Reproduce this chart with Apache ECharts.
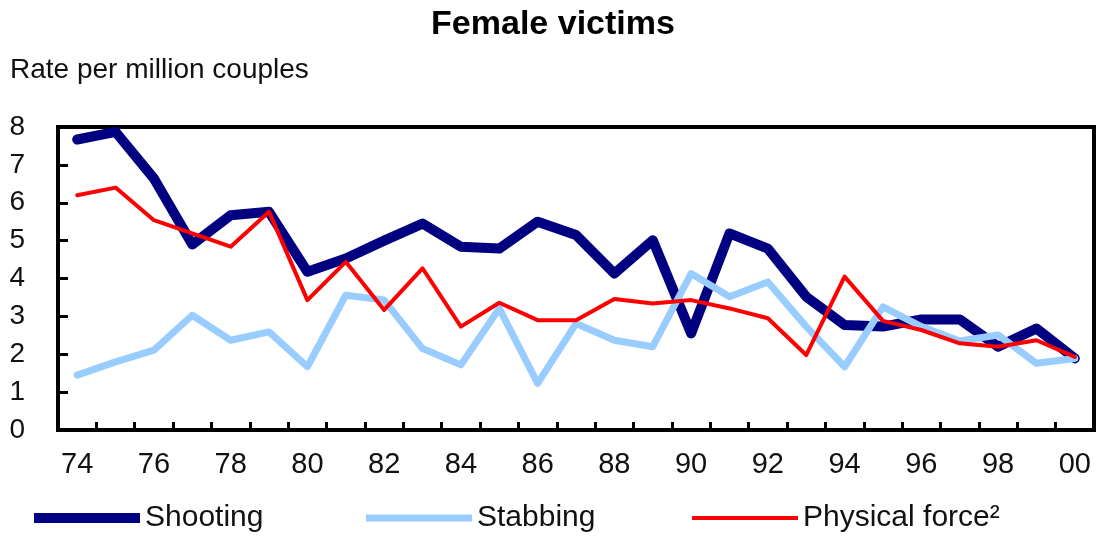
<!DOCTYPE html>
<html>
<head>
<meta charset="utf-8">
<script src="https://cdn.jsdelivr.net/npm/echarts@6/dist/echarts.min.js"></script>
<style>
  html, body { margin: 0; padding: 0; background: #fff; }
  #chart { width: 1106px; height: 536px; }
</style>
</head>
<body>
<div id="chart"></div>
<script>
const years = ['74','75','76','77','78','79','80','81','82','83','84','85','86','87','88','89','90','91','92','93','94','95','96','97','98','99','00'];
const shooting = [7.67, 7.87, 6.64, 4.9, 5.67, 5.76, 4.18, 4.53, 5.0, 5.45, 4.84, 4.79, 5.50, 5.15, 4.13, 5.01, 2.55, 5.19, 4.79, 3.52, 2.77, 2.73, 2.92, 2.92, 2.20, 2.68, 1.89];
const stabbing = [1.45, 1.80, 2.11, 3.03, 2.37, 2.59, 1.67, 3.56, 3.43, 2.15, 1.72, 3.21, 1.23, 2.81, 2.37, 2.20, 4.13, 3.52, 3.91, 2.73, 1.67, 3.25, 2.73, 2.35, 2.51, 1.76, 1.89];
const physical = [6.20, 6.40, 5.54, 5.19, 4.84, 5.76, 3.43, 4.44, 3.17, 4.27, 2.73, 3.36, 2.90, 2.90, 3.46, 3.34, 3.43, 3.21, 2.95, 1.98, 4.05, 2.88, 2.64, 2.29, 2.20, 2.37, 1.93];
const seriesNames = ['Shooting', 'Stabbing', 'Physical force\u00B2'];
const titleText = 'Female victims';
const unitText = 'Rate per million couples';

const FONT = "'Liberation Sans', Arial, sans-serif";
const chart = echarts.init(document.getElementById('chart'), null, { renderer: 'canvas' });

function legendFor(name, left, h) {
  return {
    data: [name], left: left, top: 503, padding: 0,
    icon: 'rect', itemWidth: 106, itemHeight: h, itemGap: 0,
    textStyle: { fontFamily: FONT, fontSize: 30, color: '#111' },
    selectedMode: false
  };
}

chart.setOption({
  backgroundColor: '#fff',
  animation: false,
  title: [
    { text: titleText, left: 'center', top: 3, padding: [5, 10, 5, 5],
      textStyle: { fontFamily: FONT, fontSize: 34, fontWeight: 'bold', color: '#000' } },
    { text: unitText, left: 5, top: 51,
      textStyle: { fontFamily: FONT, fontSize: 28, fontWeight: 'normal', color: '#111' } }
  ],
  legend: [
    legendFor(seriesNames[0], 34, 10),
    legendFor(seriesNames[1], 366, 7),
    legendFor(seriesNames[2], 692, 4)
  ],
  grid: { left: 58, right: 12, top: 127, bottom: 106, show: true, borderColor: '#000', borderWidth: 4 },
  xAxis: {
    type: 'category', data: years, boundaryGap: true,
    axisLine: { show: true, lineStyle: { color: '#000', width: 4 } },
    axisTick: { show: true, inside: true, length: 8, interval: 0, lineStyle: { color: '#000', width: 3 } },
    axisLabel: { interval: 1, margin: 20, fontFamily: FONT, fontSize: 29, color: '#111' },
    splitLine: { show: false }
  },
  yAxis: {
    type: 'value', min: 0, max: 8, interval: 1,
    axisLine: { show: true, lineStyle: { color: '#000', width: 4 } },
    axisTick: { show: true, inside: true, length: 10, lineStyle: { color: '#000', width: 3 } },
    axisLabel: { margin: 33, fontFamily: FONT, fontSize: 28, color: '#111' },
    splitLine: { show: false }
  },
  series: [
    { name: seriesNames[0], type: 'line', data: shooting, symbol: 'none', color: '#000080',
      lineStyle: { color: '#000080', width: 10, cap: 'round', join: 'round' } },
    { name: seriesNames[1], type: 'line', data: stabbing, symbol: 'none', color: '#99CCFF',
      lineStyle: { color: '#99CCFF', width: 7, cap: 'round', join: 'round' } },
    { name: seriesNames[2], type: 'line', data: physical, symbol: 'none', color: '#FF0000',
      lineStyle: { color: '#FF0000', width: 4, cap: 'round', join: 'round' } }
  ]
});
</script>
</body>
</html>
